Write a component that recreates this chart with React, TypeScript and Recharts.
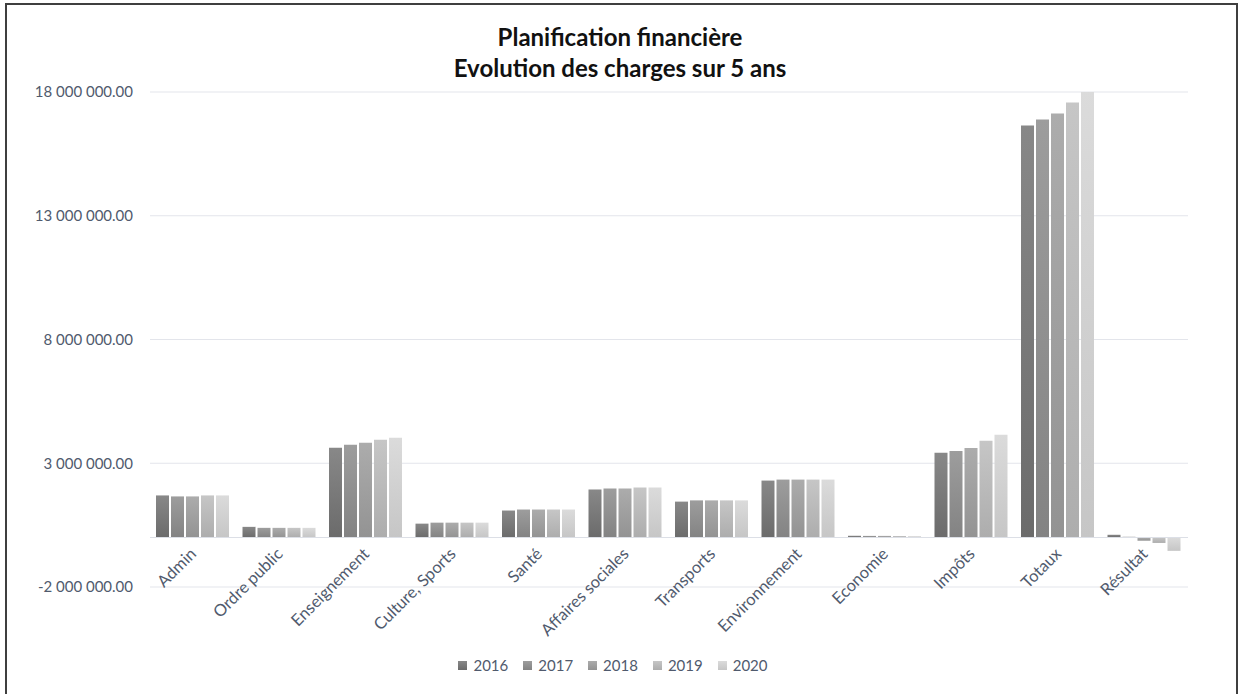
import React from 'react';
import { BarChart, Bar, XAxis, YAxis, CartesianGrid, ReferenceLine } from 'recharts';

const categories = [
  'Admin', 'Ordre public', 'Enseignement', 'Culture, Sports', 'Santé', 'Affaires sociales',
  'Transports', 'Environnement', 'Economie', 'Impôts', 'Totaux', 'Résultat',
];
const years = ['2016', '2017', '2018', '2019', '2020'];

const v2016 = [1700000, 430000, 3630000, 560000, 1090000, 1940000, 1450000, 2300000, 70000, 3420000, 16650000, 110000];
const v2017 = [1660000, 390000, 3750000, 600000, 1130000, 1980000, 1500000, 2340000, 65000, 3500000, 16890000, 30000];
const v2018 = [1660000, 390000, 3830000, 600000, 1130000, 1980000, 1500000, 2340000, 65000, 3620000, 17130000, -130000];
const v2019 = [1700000, 390000, 3950000, 600000, 1130000, 2020000, 1500000, 2340000, 60000, 3910000, 17580000, -220000];
const v2020 = [1700000, 390000, 4030000, 600000, 1130000, 2020000, 1500000, 2340000, 55000, 4150000, 18050000, -540000];

const yTicks = [-2000000, 3000000, 8000000, 13000000, 18000000];

// top / bottom shade of each year's gradient
const shades: Record<string, [string, string]> = {
  '2016': ['#888888', '#6b6b6b'],
  '2017': ['#9d9d9d', '#838383'],
  '2018': ['#acacac', '#939393'],
  '2019': ['#c6c6c6', '#adadad'],
  '2020': ['#dbdbdb', '#c6c6c6'],
};

const series = [v2016, v2017, v2018, v2019, v2020];
const data = categories.map((name, i) => {
  const row: Record<string, string | number> = { name };
  years.forEach((y, k) => { row[y] = series[k][i]; });
  return row;
});

const FONT = 'Lato, "Open Sans", sans-serif';
const TEXT = '#505a6d';

const fmt = (v: number) => {
  const [int, dec] = Math.abs(v).toFixed(2).split('.');
  return (v < 0 ? '-' : '') + int.replace(/\B(?=(\d{3})+(?!\d))/g, ' ') + '.' + dec;
};

const XTick = (props: any) => {
  const { x, y, payload } = props;
  const tx = x + 4;
  const ty = y - 40;
  return (
    <text x={tx} y={ty} transform={`rotate(-45, ${tx}, ${ty})`} textAnchor="end"
      fill={TEXT} fontSize={16.5} fontFamily={FONT}>
      {payload.value}
    </text>
  );
};

export default function App() {
  return (
    <div style={{ position: 'absolute', left: 0, top: 0, width: 1240, height: 694, background: '#fff', overflow: 'hidden' }}>
      <svg width={0} height={0} style={{ position: 'absolute' }}>
        <defs>
          {years.map((y) => (
            <linearGradient key={y} id={`g${y}`} x1="0" y1="0" x2="0" y2="1">
              <stop offset="0%" stopColor={shades[y][0]} />
              <stop offset="100%" stopColor={shades[y][1]} />
            </linearGradient>
          ))}
        </defs>
      </svg>

      {/* frame */}
      <div style={{ position: 'absolute', left: 5, top: 3, width: 1233, height: 700, border: '2px solid #3f3f3f', boxSizing: 'border-box' }} />

      {/* title */}
      <div style={{ position: 'absolute', left: 0, top: 21, width: 1240, textAlign: 'center', fontFamily: FONT, fontWeight: 700, fontSize: 24, lineHeight: '31px', color: '#111' }}>
        Planification financière<br />Evolution des charges sur 5 ans
      </div>

      <div style={{ position: 'absolute', left: 0, top: 0 }}>
        <BarChart width={1240} height={694} data={data}
          margin={{ top: 92, right: 52, bottom: 77, left: 0 }}
          barGap={2} barCategoryGap={6}>
          <CartesianGrid vertical={false} stroke="#e3e5eb" />
          <YAxis domain={[-2000000, 18000000]} ticks={yTicks} allowDataOverflow width={150}
            axisLine={false} tickLine={false} tickMargin={11} tickFormatter={fmt}
            tick={{ fill: TEXT, fontSize: 15, fontFamily: FONT }} />
          <XAxis dataKey="name" axisLine={false} tickLine={false} height={30} interval={0} tick={<XTick />} />
          <ReferenceLine y={0} stroke="#dcdfe6" />
          {years.map((y) => (
            <Bar key={y} dataKey={y} fill={`url(#g${y})`} isAnimationActive={false} />
          ))}
        </BarChart>
      </div>

      {/* legend */}
      <div style={{ position: 'absolute', left: 0, top: 656, width: 1226, display: 'flex', justifyContent: 'center', fontFamily: FONT, fontSize: 15, color: TEXT }}>
        {years.map((y, i) => (
          <div key={y} style={{ display: 'flex', alignItems: 'center', marginRight: i < years.length - 1 ? 15 : 0 }}>
            <span style={{ width: 9, height: 9, marginRight: 6, background: `linear-gradient(${shades[y][0]}, ${shades[y][1]})` }} />
            <span>{y}</span>
          </div>
        ))}
      </div>
    </div>
  );
}
